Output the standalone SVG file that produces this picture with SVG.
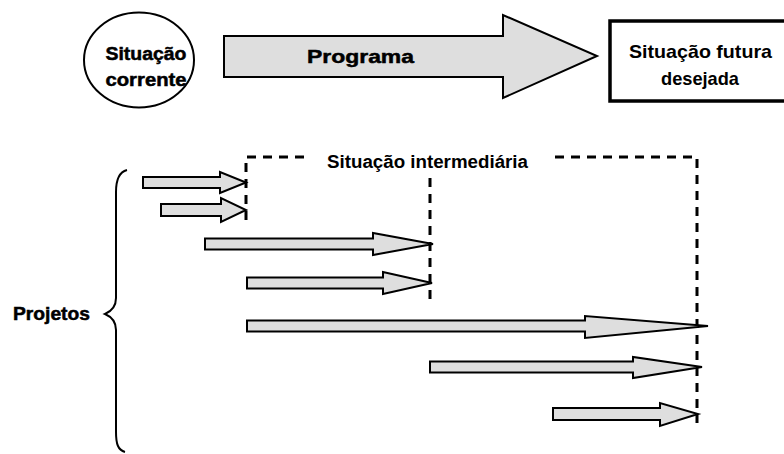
<svg xmlns="http://www.w3.org/2000/svg" width="784" height="454" viewBox="0 0 784 454">
  <style>
    .lbl { font-family: "Liberation Sans", Arial, sans-serif; fill: #000; font-weight: bold; }
    .heavy { stroke: #000; stroke-width: 0.5; }
    .blk { fill: #dedede; stroke: #000; stroke-width: 2; stroke-linejoin: miter; }
    .dash { fill: none; stroke: #000; stroke-width: 3; stroke-dasharray: 9 7; }
    .line { fill: none; stroke: #000; stroke-width: 2; }
  </style>
  <rect width="784" height="454" fill="#fff"/>

  <!-- current state -->
  <g id="situacao-corrente">
    <ellipse cx="139" cy="60" rx="55" ry="47.5" fill="#fff" stroke="#000" stroke-width="2"/>
    <text class="lbl heavy" x="146" y="60" font-size="18" text-anchor="middle" textLength="81" lengthAdjust="spacingAndGlyphs">Situação</text>
    <text class="lbl heavy" x="146" y="86" font-size="18" text-anchor="middle" textLength="81" lengthAdjust="spacingAndGlyphs">corrente</text>
  </g>

  <!-- programme block arrow -->
  <g id="programa">
    <polygon class="blk" stroke-width="1.5" points="224,36 503,36 503,15 597,56 503,98 503,77 224,77"/>
    <text class="lbl heavy" x="307" y="63" font-size="19" textLength="107" lengthAdjust="spacingAndGlyphs">Programa</text>
  </g>

  <!-- desired future state -->
  <g id="situacao-futura">
    <rect x="610" y="21" width="190" height="80" fill="#fff" stroke="#000" stroke-width="3.5"/>
    <text class="lbl" x="629" y="58" font-size="19" textLength="143" lengthAdjust="spacingAndGlyphs">Situação futura</text>
    <text class="lbl" x="661" y="85" font-size="19" textLength="78" lengthAdjust="spacingAndGlyphs">desejada</text>
  </g>

  <!-- intermediate state frame -->
  <g id="situacao-intermediaria">
    <path class="dash" d="M246,220 V157 H304"/>
    <path class="dash" d="M555,157 H697 V423"/>
    <path class="dash" d="M430,178 V300"/>
    <text class="lbl" x="327" y="168" font-size="18" textLength="201" lengthAdjust="spacingAndGlyphs">Situação intermediária</text>
  </g>

  <!-- projects brace -->
  <g id="projetos">
    <path class="line" d="M127,170 C119,172 116,180 116,192 L116,298 C116,306 112,311 105,314 C112,317 116,322 116,330 L116,432 C116,444 118,450 125,452"/>
    <text class="lbl heavy" x="13" y="320" font-size="18" textLength="77" lengthAdjust="spacingAndGlyphs">Projetos</text>
  </g>

  <!-- project arrows -->
  <g id="connectors">
    <polygon class="blk" points="143,177 220,177 220,172 246,182.5 220,193 220,188 143,188"/>
    <polygon class="blk" points="161,204 221,204 221,198 246,210 221,222 221,216 161,216"/>
    <polygon class="blk" points="205,238.5 373,238.5 373,233 433,244 373,255 373,249.5 205,249.5"/>
    <polygon class="blk" points="247,277.5 383,277.5 383,272 432,283 383,294 383,288.5 247,288.5"/>
    <polygon class="blk" points="247,320.5 585,320.5 585,316 708,326 585,338 585,331.5 247,331.5"/>
    <polygon class="blk" points="430,361.5 633,361.5 633,357 702,367 633,378 633,372.5 430,372.5"/>
    <polygon class="blk" points="553,408 660,408 660,403 698,414 660,426 660,420 553,420"/>
  </g>
</svg>
